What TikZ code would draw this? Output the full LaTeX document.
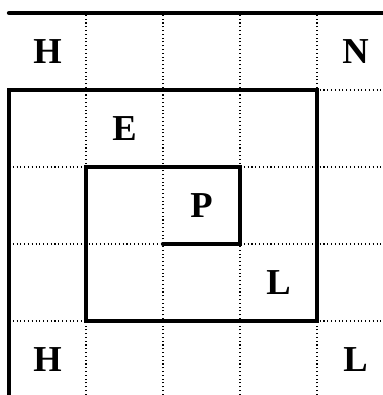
\documentclass[tikz,border=0pt]{standalone}
\usepackage{fontspec}
\setmainfont{Liberation Serif}
\begin{document}
\begin{tikzpicture}[x=1cm,y=1cm,
    wall/.style={line width=1.6pt,line cap=round,line join=miter},
    cell/.style={font=\fontsize{13.5}{15}\selectfont\bfseries}]
        \useasboundingbox (-0.117,0.039) rectangle (4.857,5.169);

        % dotted cells
        \foreach \i in {1,...,4}
            \draw[densely dotted] (\i,-0.5) -- (\i,5);
        \foreach \j in {1,...,4}
            \draw[densely dotted] (0,\j) -- (5,\j);

        \coordinate (T0) at (0,5);
        \coordinate (T1) at (5,5);
        \coordinate (S0) at (0,-0.5); % runs off the bottom
        \coordinate (S1) at (0,4);
        \coordinate (S2) at (4,4);
        \coordinate (S3) at (4,1);
        \coordinate (S4) at (1,1);
        \coordinate (S5) at (1,3);
        \coordinate (S6) at (3,3);
        \coordinate (S7) at (3,2);
        \coordinate (S8) at (2,2); % centre

        \draw[wall] (T0) -- (T1);
        \draw[wall] (S0) -- (S1) -- (S2) -- (S3) -- (S4) -- (S5) -- (S6) -- (S7) -- (S8);

        \node[cell] (h1) at (0.5,4.5) {H};
        \node[cell] (n1) at (4.5,4.5) {N};
        \node[cell] (e1) at (1.5,3.5) {E};
        \node[cell] (p1) at (2.5,2.5) {P};
        \node[cell] (l1) at (3.5,1.5) {L};
        \node[cell] (h2) at (0.5,0.5) {H};
        \node[cell] (l2) at (4.5,0.5) {L};
    \end{tikzpicture}
\end{document}
